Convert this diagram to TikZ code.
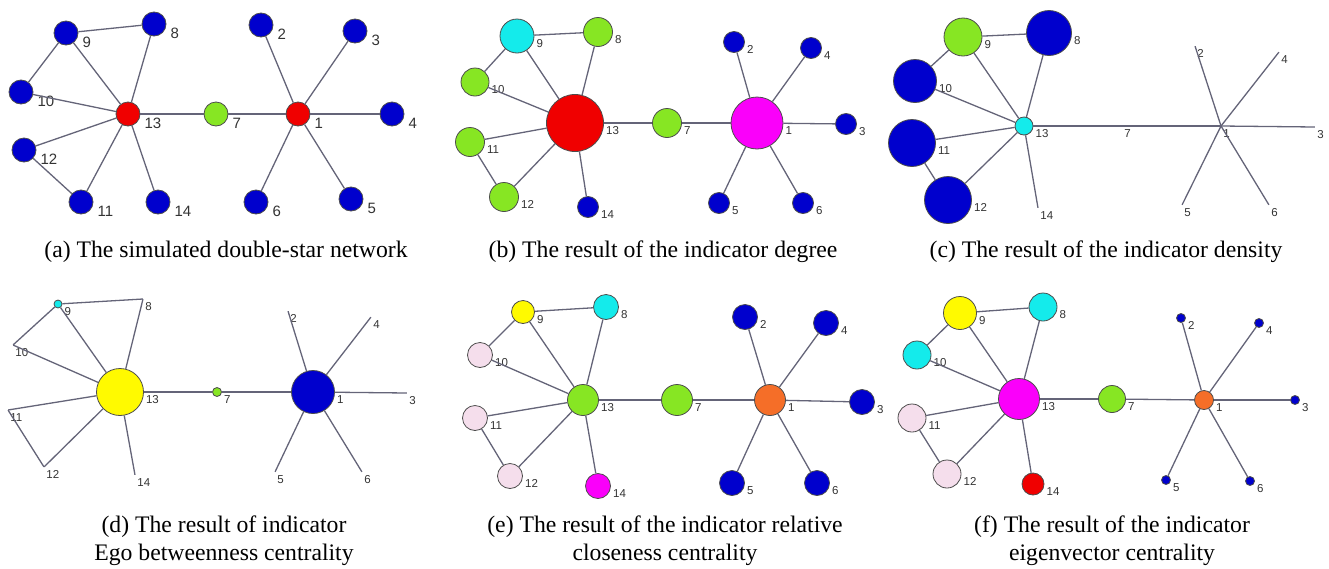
\documentclass[tikz,border=0pt]{standalone}
\usepackage{fontspec}
\setmainfont{Liberation Serif}
\newfontfamily\lblfont{Liberation Sans}

\definecolor{nblue}{RGB}{0,0,205}
\definecolor{nred}{RGB}{240,0,0}
\definecolor{ngreen}{RGB}{135,230,35}
\definecolor{ncyan}{RGB}{20,235,235}
\definecolor{nmag}{RGB}{250,0,250}
\definecolor{nyel}{RGB}{255,250,0}
\definecolor{norange}{RGB}{245,110,40}
\definecolor{npink}{RGB}{245,222,236}
\definecolor{linkgray}{RGB}{100,100,120}

\tikzset{
  vert/.style={circle, draw=black!70, line width=0.8pt, inner sep=0pt, minimum size=#1pt},
  pnt/.style={circle, inner sep=0pt, minimum size=0pt},
  lb/.style={anchor=north west, inner sep=0pt, xshift=2pt, yshift=-3pt, text=black!80,
    font=\lblfont\fontsize{11.5}{12}\selectfont},
  lbbig/.style={anchor=north west, inner sep=0pt, xshift=4pt, yshift=-4pt, text=black!80,
    font=\lblfont\fontsize{15}{16}\selectfont},
  link/.style={draw=linkgray, line width=1.3pt},
  captxt/.style={font=\fontsize{23.7}{28}\selectfont, align=center}
}

% same double-star edges in every panel
\newcommand{\starlinks}[1]{%
  \foreach \u/\v in {13/9,13/8,13/10,13/11,13/12,13/14,13/7,7/1,1/2,1/3,1/4,1/5,1/6,9/8,9/10,11/12}
    \draw[link] (#1\u) -- (#1\v);}

\begin{document}
\begin{tikzpicture}[x=1pt, y=-1pt]
  \useasboundingbox (0,0) rectangle (1329,568);

  % (a) simulated network
  \foreach \n/\p/\c in {9/{66,33}/nblue, 8/{154,24}/nblue, 10/{21,92}/nblue, 13/{128,114}/nred,
      7/{216,114}/ngreen, 1/{298,114}/nred, 2/{261,25}/nblue, 3/{355,31}/nblue, 4/{392,114}/nblue,
      12/{24,150}/nblue, 11/{81,202}/nblue, 14/{158,202}/nblue, 6/{256,202}/nblue, 5/{351,199}/nblue}
    \node[vert=24, fill=\c, label={[lbbig]east:\n}] (a\n) at (\p) {};
  \starlinks{a}
  \node[captxt] (capa) at (226,252) {(a) The simulated double-star network};

  % (b) degree
  \foreach \n/\p/\s/\c in {9/{517,36}/34/ncyan, 8/{598,32}/29/ngreen, 10/{475,82}/28/ngreen,
      13/{575,123}/57/nred, 7/{667,123}/29/ngreen, 1/{757,123}/52/nmag, 2/{734,42}/21/nblue,
      4/{811,48}/21/nblue, 3/{846,124}/21/nblue, 11/{470,142}/29/ngreen, 12/{504,197}/29/ngreen,
      14/{588,207}/21/nblue, 5/{719,203}/21/nblue, 6/{803,203}/21/nblue}
    \node[vert=\s, fill=\c, label={[lb]east:\n}] (b\n) at (\p) {};
  \starlinks{b}
  \node[captxt] (capb) at (663,252) {(b) The result of the indicator degree};

  % (c) density
  \foreach \n/\p/\s/\c in {9/{963,37}/38/ngreen, 8/{1049,33}/45/nblue, 10/{915,81}/43/nblue,
      13/{1024,126}/18/ncyan, 11/{912,143}/47/nblue, 12/{948,200}/47/nblue}
    \node[vert=\s, fill=\c, label={[lb]east:\n}] (c\n) at (\p) {};
  \foreach \n/\p in {7/{1122,126}, 1/{1221,126}, 3/{1315,127}, 2/{1195,46}, 4/{1279,52},
      5/{1182,205}, 6/{1269,205}, 14/{1038,208}}
    \node[pnt, label={[lb]east:\n}] (c\n) at (\p) {};
  \starlinks{c}
  \node[captxt] (capc) at (1106,252) {(c) The result of the indicator density};

  % (d) ego betweenness
  \foreach \n/\p/\s/\c in {9/{58,304}/8/ncyan, 13/{120,392}/47/nyel, 7/{217,392}/9/ngreen,
      1/{313,392}/43/nblue}
    \node[vert=\s, fill=\c, label={[lb]east:\n}] (d\n) at (\p) {};
  \foreach \n/\p in {8/{143,299}, 10/{13,345}, 11/{8,410}, 12/{44,467}, 14/{135,475},
      2/{288,311}, 4/{371,317}, 3/{407,393}, 5/{275,472}, 6/{362,472}}
    \node[pnt, label={[lb]east:\n}] (d\n) at (\p) {};
  \starlinks{d}
  \node[captxt] (capd) at (224,541) {(d) The result of indicator\\Ego betweenness centrality};

  % (e) relative closeness
  \foreach \n/\p/\s/\c in {9/{523,312}/23/nyel, 8/{606,307}/25/ncyan, 10/{480,355}/25/npink,
      13/{583,400}/31/ngreen, 7/{677,400}/31/ngreen, 1/{770,400}/31/norange, 2/{745,317}/25/nblue,
      4/{826,323}/25/nblue, 3/{862,402}/25/nblue, 11/{475,418}/25/npink, 12/{510,476}/25/npink,
      14/{598,486}/25/nmag, 5/{732,483}/25/nblue, 6/{817,483}/25/nblue}
    \node[vert=\s, fill=\c, label={[lb]east:\n}] (e\n) at (\p) {};
  \starlinks{e}
  \node[captxt] (cape) at (665,541) {(e) The result of the indicator relative\\closeness centrality};

  % (f) eigenvector
  \foreach \n/\p/\s/\c in {9/{960,313}/33/nyel, 8/{1043,307}/28/ncyan, 10/{917,355}/28/ncyan,
      13/{1019,399}/41/nmag, 7/{1112,399}/27/ngreen, 1/{1204,400}/19/norange, 2/{1181,318}/9/nblue,
      4/{1259,323}/9/nblue, 3/{1295,400}/9/nblue, 11/{912,418}/28/npink, 12/{947,474}/28/npink,
      14/{1033,484}/22/nred, 5/{1166,480}/9/nblue, 6/{1250,481}/9/nblue}
    \node[vert=\s, fill=\c, label={[lb]east:\n}] (f\n) at (\p) {};
  \starlinks{f}
  \node[captxt] (capf) at (1112,541) {(f) The result of the indicator\\eigenvector centrality};
\end{tikzpicture}
\end{document}
